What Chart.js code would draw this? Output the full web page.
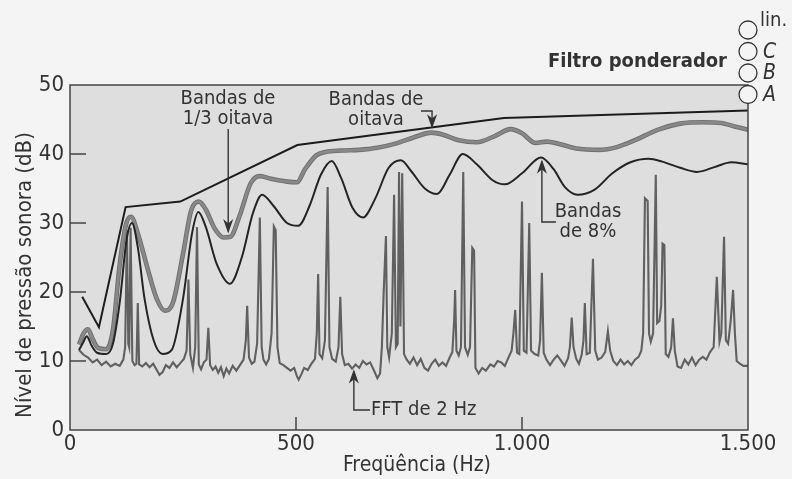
<!DOCTYPE html>
<html>
<head>
<meta charset="utf-8">
<script src="https://cdn.jsdelivr.net/npm/chart.js@4.4.0/dist/chart.umd.min.js"></script>
<style>
  html, body { margin: 0; padding: 0; background: #f4f4f4; }
  #grafico { display: block; }
</style>
</head>
<body>
<canvas id="grafico" width="792" height="479"></canvas>
<script>
// eixos
const xTicks = [0, 500, 1000, 1500];
const xTickLabels = ['0', '500', '1.000', '1.500'];
const yTicks = [0, 10, 20, 30, 40, 50];

// bandas de oitava
const octaveHz = [27, 64, 123, 244, 503, 960, 1500];
const octaveDb = [19.3, 14.9, 32.3, 33.1, 41.3, 45.2, 46.3];

// bandas de 1/3 de oitava
const terceiroHz = [20, 30, 40, 50, 62, 80, 95, 110, 124, 135, 150, 170, 192, 210, 228, 250, 268, 285, 300, 320, 340, 355, 375, 400, 420, 445, 480, 502, 520, 545, 565, 600, 640, 680, 720, 760, 800, 825, 860, 900, 940, 975, 1000, 1030, 1055, 1080, 1120, 1170, 1210, 1250, 1300, 1350, 1400, 1440, 1470, 1500];
const terceiroDb = [12.4, 14.0, 14.6, 13.2, 11.9, 11.7, 14.5, 24.0, 29.8, 30.9, 28.5, 23.8, 19.0, 17.3, 18.5, 25.5, 31.8, 33.1, 32.0, 29.2, 27.9, 28.0, 31.0, 35.8, 36.8, 36.4, 36.0, 35.9, 37.8, 39.8, 40.3, 40.5, 40.6, 40.9, 41.5, 42.4, 43.1, 42.8, 42.0, 41.7, 42.6, 43.6, 43.0, 41.6, 41.8, 41.5, 40.8, 40.6, 41.0, 42.0, 43.5, 44.4, 44.6, 44.5, 44.0, 43.5];

// bandas de 8%
const bandas8Hz = [20, 30, 37, 48, 60, 80, 95, 110, 125, 137, 150, 165, 185, 205, 225, 250, 270, 284, 300, 325, 354, 380, 405, 425, 450, 480, 505, 530, 555, 579, 600, 625, 648, 675, 705, 732, 755, 785, 812, 840, 869, 900, 935, 962, 1000, 1042, 1070, 1095, 1123, 1160, 1200, 1240, 1280, 1310, 1350, 1387, 1430, 1463, 1500];
const bandas8Db = [11.6, 12.8, 13.6, 12.2, 11.2, 11.0, 12.5, 18.5, 27.5, 30.0, 26.5, 19.0, 13.0, 11.0, 11.6, 19.0, 28.5, 31.6, 29.5, 24.0, 21.2, 25.0, 31.5, 34.1, 32.5, 30.0, 29.6, 32.5, 37.0, 39.0, 36.5, 32.2, 30.8, 33.5, 38.0, 39.1, 37.5, 35.0, 34.2, 37.0, 40.0, 38.5, 36.2, 35.6, 37.2, 39.5, 37.8, 35.2, 34.1, 34.8, 37.2, 38.8, 39.3, 38.9, 38.0, 37.4, 38.2, 38.8, 38.5];

// FFT de 2 Hz
const fftHz = [20, 30, 40, 50, 60, 70, 80, 90, 100, 110, 118, 122, 126, 129, 131, 134, 138, 143, 147, 150, 153, 160, 168, 176, 184, 192, 198, 205, 212, 220, 228, 236, 244, 252, 258, 262, 266, 272, 277, 281, 285, 290, 296, 302, 306, 310, 316, 322, 328, 334, 340, 346, 352, 360, 368, 376, 384, 389, 392, 396, 402, 408, 414, 420, 424, 428, 434, 440, 446, 451, 455, 459, 464, 472, 480, 488, 496, 502, 506, 512, 518, 526, 534, 542, 546, 549, 552, 558, 564, 570, 574, 580, 588, 594, 598, 602, 608, 616, 624, 632, 640, 648, 656, 664, 672, 680, 686, 690, 694, 699, 702, 706, 712, 717, 721, 725, 728, 731, 735, 739, 745, 752, 760, 768, 776, 784, 792, 800, 808, 816, 824, 832, 840, 846, 850, 852, 855, 860, 865, 870, 874, 880, 885, 890, 894, 897, 904, 912, 920, 930, 938, 946, 954, 962, 970, 977, 981, 985, 989, 994, 1000, 1004, 1010, 1016, 1020, 1028, 1036, 1040, 1044, 1048, 1054, 1062, 1070, 1078, 1086, 1094, 1102, 1106, 1110, 1114, 1120, 1126, 1132, 1136, 1139, 1143, 1150, 1157, 1162, 1168, 1176, 1184, 1190, 1195, 1202, 1210, 1218, 1226, 1234, 1242, 1250, 1258, 1264, 1268, 1272, 1278, 1281, 1285, 1290, 1296, 1299, 1304, 1308, 1311, 1315, 1318, 1324, 1330, 1334, 1338, 1344, 1352, 1360, 1368, 1376, 1384, 1392, 1400, 1408, 1416, 1424, 1431, 1437, 1441, 1447, 1451, 1456, 1462, 1467, 1471, 1475, 1482, 1490, 1500];
const fftDb = [11.6, 10.9, 10.5, 9.8, 10.2, 9.4, 9.9, 9.2, 9.6, 9.3, 10.2, 12.0, 29.0, 12.5, 12.0, 29.3, 10.0, 9.4, 9.6, 18.4, 9.5, 9.2, 9.7, 9.1, 9.6, 8.7, 8.0, 8.4, 9.4, 9.0, 9.8, 9.1, 9.7, 10.3, 11.5, 21.8, 11.0, 9.0, 12.0, 29.4, 9.5, 8.8, 9.8, 10.2, 14.8, 9.4, 8.7, 9.2, 8.3, 9.1, 7.8, 8.9, 8.2, 9.3, 8.6, 9.4, 10.2, 13.0, 18.0, 10.5, 9.6, 9.9, 12.5, 30.8, 12.0, 10.2, 9.5, 10.3, 14.0, 29.5, 29.0, 12.0, 9.7, 9.4, 9.0, 8.6, 9.0, 7.8, 7.3, 8.1, 9.0, 8.7, 9.6, 10.3, 14.0, 22.6, 11.0, 10.4, 13.0, 35.2, 12.0, 10.3, 9.9, 12.0, 19.3, 11.0, 9.4, 9.6, 8.9, 9.5, 9.0, 10.0, 9.5, 9.8, 8.7, 7.5, 8.2, 12.0, 20.0, 28.1, 12.0, 10.5, 14.0, 34.1, 12.0, 12.5, 37.4, 15.0, 37.2, 11.0, 10.2, 9.6, 10.5, 9.4, 10.3, 9.0, 8.6, 9.6, 10.2, 9.3, 9.8, 9.3, 10.5, 11.3, 16.0, 20.3, 11.5, 10.8, 12.0, 37.4, 12.0, 10.9, 12.0, 26.4, 26.0, 9.0, 8.2, 9.0, 8.6, 9.5, 9.2, 10.0, 9.8, 9.3, 10.5, 11.5, 14.0, 17.4, 11.2, 11.0, 33.1, 11.5, 11.2, 30.0, 11.5, 11.0, 10.8, 13.0, 22.8, 11.2, 10.2, 9.4, 10.2, 10.8, 10.1, 9.3, 10.4, 12.0, 16.3, 12.0, 10.3, 9.6, 10.9, 13.0, 18.4, 11.0, 11.2, 24.8, 11.5, 10.2, 10.5, 11.3, 14.3, 11.5, 10.0, 9.4, 10.2, 9.5, 10.0, 9.4, 10.2, 10.6, 11.5, 14.0, 33.6, 33.2, 14.0, 12.8, 14.0, 37.0, 15.5, 15.8, 18.0, 27.0, 26.8, 11.0, 10.6, 12.0, 16.2, 11.5, 9.2, 9.0, 10.2, 9.5, 10.5, 9.4, 10.2, 10.6, 10.2, 11.3, 12.0, 22.2, 12.8, 14.0, 28.0, 13.0, 12.5, 16.0, 20.3, 14.0, 10.0, 9.6, 9.3, 9.3];

// textos
const notas = [
  { linhas: ['Bandas de', '1/3 oitava'], x: 228, y: 99, alinh: 'center' },
  { linhas: ['Bandas de', 'oitava'], x: 376, y: 100, alinh: 'center' },
  { linhas: ['Bandas', 'de 8%'], x: 588, y: 212, alinh: 'center' },
  { linhas: ['FFT de 2 Hz'], x: 371, y: 410, alinh: 'left' }
];
// setas: ponto de partida em pixels, ponta em valores do grafico
const setas = [
  { px: null, py: 129, hz: 350, db: 28.8, dir: 'down' },
  { px: 421, py: 111, hz: 801, db: 44.0, dir: 'down' },
  { px: 556, py: 222, hz: 1044, db: 38.9, dir: 'up' },
  { px: 370, py: 410, hz: 628, db: 8.5, dir: 'up' }
];
const filtros = ['lin.', 'C', 'B', 'A'];

const FONTE = '"Liberation Sans Narrow", "DejaVu Sans Condensed", sans-serif';
const COR_TEXTO = '#333';

function pontos(xs, ys) {
  return xs.map((x, i) => ({ x: x, y: ys[i] }));
}

function pontaSeta(ctx, x, y, dir) {
  const s = dir === 'down' ? -1 : 1;
  ctx.beginPath();
  ctx.moveTo(x - 3.5, y + s * 10);
  ctx.lineTo(x, y);
  ctx.lineTo(x + 3.5, y + s * 10);
  ctx.lineTo(x, y + s * 7);
  ctx.closePath();
  ctx.fill();
  ctx.stroke();
}

const fundoPlugin = {
  id: 'fundo',
  beforeDraw(chart) {
    const { ctx, chartArea: a } = chart;
    ctx.save();
    ctx.fillStyle = '#f4f4f4';
    ctx.fillRect(0, 0, chart.width, chart.height);
    ctx.fillStyle = '#dedede';
    ctx.fillRect(a.left, a.top, a.right - a.left, a.bottom - a.top);
    ctx.restore();
  },
  afterDraw(chart) {
    const { ctx, chartArea: a, scales } = chart;
    const sx = scales.x, sy = scales.y;
    ctx.save();

    // moldura e marcas para dentro
    ctx.strokeStyle = '#444';
    ctx.lineWidth = 1.5;
    ctx.strokeRect(a.left, a.top, a.right - a.left, a.bottom - a.top);
    ctx.beginPath();
    yTicks.slice(1, -1).forEach(v => {
      const y = sy.getPixelForValue(v);
      ctx.moveTo(a.left, y);
      ctx.lineTo(a.left + 16, y);
    });
    xTicks.slice(1, -1).forEach(v => {
      const x = sx.getPixelForValue(v);
      ctx.moveTo(x, a.bottom);
      ctx.lineTo(x, a.bottom - 13);
    });
    ctx.stroke();

    // titulos dos eixos
    ctx.fillStyle = COR_TEXTO;
    ctx.textBaseline = 'middle';
    ctx.textAlign = 'center';
    ctx.font = '21px ' + FONTE;
    ctx.fillText('Freqüência (Hz)', 417, 466);
    ctx.save();
    ctx.translate(25, 275);
    ctx.rotate(-Math.PI / 2);
    ctx.font = '22px ' + FONTE;
    ctx.fillText('Nível de pressão sonora (dB)', 0, 0);
    ctx.restore();

    // textos das curvas
    ctx.font = '20px ' + FONTE;
    notas.forEach(n => {
      ctx.textAlign = n.alinh;
      n.linhas.forEach((t, i) => ctx.fillText(t, n.x, n.y + i * 20));
    });

    // setas
    ctx.strokeStyle = COR_TEXTO;
    ctx.lineWidth = 1.4;
    setas.forEach(s => {
      const tx = sx.getPixelForValue(s.hz);
      const ty = sy.getPixelForValue(s.db);
      ctx.beginPath();
      if (s.px === null) {
        ctx.moveTo(tx, s.py);
      } else {
        ctx.moveTo(s.px, s.py);
        ctx.lineTo(tx, s.py);
      }
      ctx.lineTo(tx, ty);
      ctx.stroke();
      pontaSeta(ctx, tx, ty, s.dir);
    });

    // filtro ponderador
    ctx.font = 'bold 20px ' + FONTE;
    ctx.textAlign = 'right';
    ctx.fillText('Filtro ponderador', 727, 62);
    ctx.lineWidth = 1.3;
    filtros.forEach((f, i) => {
      const cy = 30 + i * 21.5;
      ctx.beginPath();
      ctx.arc(748, cy, 9, 0, Math.PI * 2);
      ctx.fillStyle = '#f4f4f4';
      ctx.fill();
      ctx.stroke();
    });
    ctx.fillStyle = COR_TEXTO;
    ctx.textAlign = 'left';
    filtros.forEach((f, i) => {
      const cy = 30 + i * 21.5;
      if (i === 0) {
        ctx.font = '20px ' + FONTE;
        ctx.fillText(f, 760, cy - 9);
      } else {
        ctx.font = 'italic 21px ' + FONTE;
        ctx.fillText(f, 763, cy + 1);
      }
    });
    ctx.restore();
  }
};

const ctx = document.getElementById('grafico').getContext('2d');

const grafico = new Chart(ctx, {
  type: 'line',
  data: {
    datasets: [
      {
        label: 'Bandas de oitava',
        data: pontos(octaveHz, octaveDb),
        borderColor: '#1c1c1c',
        borderWidth: 2,
        tension: 0
      },
      {
        label: 'Bandas de 8%',
        data: pontos(bandas8Hz, bandas8Db),
        borderColor: '#242424',
        borderWidth: 2,
        cubicInterpolationMode: 'monotone'
      },
      {
        label: 'Bandas de 1/3 oitava',
        data: pontos(terceiroHz, terceiroDb),
        borderColor: '#888888',
        borderWidth: 2.8,
        cubicInterpolationMode: 'monotone'
      },
      {
        label: 'contorno 1/3',
        data: pontos(terceiroHz, terceiroDb),
        borderColor: '#6e6e6e',
        borderWidth: 4.6,
        cubicInterpolationMode: 'monotone'
      },
      {
        label: 'FFT de 2 Hz',
        data: pontos(fftHz, fftDb),
        borderColor: '#606060',
        borderWidth: 2.1,
        tension: 0
      }
    ]
  },
  options: {
    responsive: false,
    animation: false,
    events: [],
    elements: { point: { radius: 0 } },
    layout: { padding: { left: 0, right: 44, top: 85, bottom: 0 } },
    plugins: {
      legend: { display: false },
      tooltip: { enabled: false }
    },
    scales: {
      x: {
        type: 'linear',
        min: 0,
        max: 1500,
        afterFit: s => { s.height = 49; },
        afterBuildTicks: s => { s.ticks = xTicks.map(v => ({ value: v })); },
        grid: { display: false, drawTicks: false },
        border: { display: false },
        ticks: {
          padding: 1,
          maxRotation: 0,
          color: COR_TEXTO,
          font: { family: FONTE, size: 22 },
          callback: v => {
            const i = xTicks.indexOf(v);
            return i >= 0 ? xTickLabels[i] : '';
          }
        }
      },
      y: {
        type: 'linear',
        min: 0,
        max: 50,
        afterFit: s => { s.width = 70; },
        afterBuildTicks: s => { s.ticks = yTicks.map(v => ({ value: v })); },
        grid: { display: false, drawTicks: false },
        border: { display: false },
        ticks: {
          padding: 6,
          color: COR_TEXTO,
          font: { family: FONTE, size: 22 },
          callback: v => String(v)
        }
      }
    }
  },
  plugins: [fundoPlugin]
});
</script>
</body>
</html>
